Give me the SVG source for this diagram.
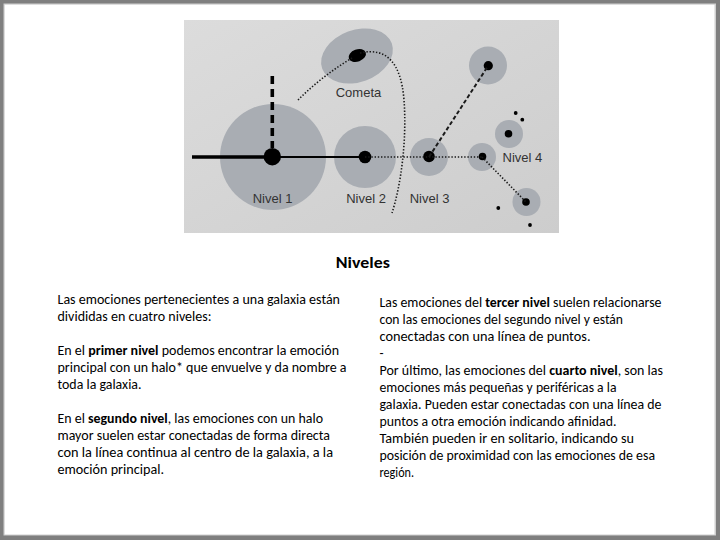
<svg xmlns="http://www.w3.org/2000/svg" width="720" height="540" viewBox="0 0 720 540">
<defs>
<linearGradient id="bg" x1="0" y1="0" x2="1" y2="1">
<stop offset="0" stop-color="#dcdcdc"/>
<stop offset="1" stop-color="#cdcdcd"/>
</linearGradient>
</defs>
<style>
.halo{fill:#a9adb3}
.nuc{fill:#000}
.lbl{font-family:"Liberation Sans",Arial,sans-serif;font-size:13px;fill:#333}
.body{font-family:Carlito,Calibri,Lato,sans-serif;font-size:13.3px;fill:#000}
.b{font-weight:bold}
.dot{fill:none;stroke:#1a1a1a;stroke-width:1.6;stroke-dasharray:1.4 1.8}
</style>
<rect x="0" y="0" width="720" height="540" fill="#7f7f7f"/>
<rect x="3.5" y="3.5" width="712.5" height="532" fill="#cfcfcf"/>
<rect x="4.7" y="4.7" width="709.8" height="529.8" fill="#ffffff"/>
<g id="figure">
<rect x="184" y="20" width="375" height="213" fill="url(#bg)"/>
<g id="nivel1">
<circle cx="273" cy="157" r="53" class="halo"/>
<circle cx="272.3" cy="156.7" r="8.7" class="nuc"/>
<text x="272.5" y="203" text-anchor="middle" class="lbl">Nivel 1</text>
</g>
<g id="nivel2">
<circle cx="365" cy="157" r="31" class="halo"/>
<circle cx="365" cy="157" r="6.3" class="nuc"/>
<text x="366" y="203" text-anchor="middle" class="lbl">Nivel 2</text>
</g>
<g id="cometa">
<ellipse cx="357" cy="56" rx="37" ry="26" transform="rotate(-20 357 56)" class="halo"/>
<ellipse cx="357.3" cy="55.5" rx="9" ry="6" transform="rotate(-20 357.3 55.5)" class="nuc"/>
<text x="358.5" y="97" text-anchor="middle" class="lbl">Cometa</text>
</g>
<g id="nivel3">
<circle cx="429" cy="157" r="19" class="halo"/>
<circle cx="429" cy="156.5" r="5.8" class="nuc"/>
<text x="429.5" y="203" text-anchor="middle" class="lbl">Nivel 3</text>
</g>
<g id="nivel4">
<circle cx="488" cy="65.5" r="19" class="halo"/>
<circle cx="488.3" cy="65.7" r="4.6" class="nuc"/>
<circle cx="482" cy="157" r="14" class="halo"/>
<circle cx="482.5" cy="156.5" r="3.8" class="nuc"/>
<circle cx="509" cy="134" r="14" class="halo"/>
<circle cx="508.5" cy="133.7" r="3.8" class="nuc"/>
<circle cx="526.5" cy="202" r="14" class="halo"/>
<circle cx="526" cy="202" r="3.8" class="nuc"/>
<circle cx="515.7" cy="113" r="1.9" class="nuc"/>
<circle cx="522.3" cy="119.7" r="1.9" class="nuc"/>
<circle cx="498.3" cy="208" r="1.9" class="nuc"/>
<circle cx="530" cy="225" r="1.9" class="nuc"/>
<text x="502.5" y="162" class="lbl">Nivel 4</text>
</g>
<g id="connectors">
<line x1="192" y1="157" x2="268" y2="157" stroke="#000" stroke-width="3.4"/>
<line x1="272" y1="157" x2="365" y2="157" stroke="#000" stroke-width="2"/>
<line x1="272.3" y1="76" x2="272.3" y2="148" stroke="#000" stroke-width="3.6" stroke-dasharray="8 5"/>
<line x1="365" y1="157" x2="482" y2="157" class="dot"/>
<line x1="429" y1="157" x2="488" y2="66" stroke="#1a1a1a" stroke-width="2" stroke-dasharray="4 2.4"/>
<line x1="482" y1="157" x2="526" y2="202" class="dot"/>
<path d="M298,100 Q322,76 352,58" class="dot"/>
<path d="M360,53 C386,47 401,62 404,100 C407,140 401,185 392,213" class="dot"/>
</g>
</g>
<g id="title">
<text x="362.8" y="267.5" text-anchor="middle" font-family="Carlito,Calibri,Lato,sans-serif" font-size="16" font-weight="bold" fill="#000" textLength="54" lengthAdjust="spacingAndGlyphs">Niveles</text>
</g>
<g id="left-text" class="body">
<text x="57.5" y="304" textLength="282.5" lengthAdjust="spacingAndGlyphs">Las emociones pertenecientes a una galaxia están</text>
<text x="57.5" y="321" textLength="154" lengthAdjust="spacingAndGlyphs">divididas en cuatro niveles:</text>
<text x="57.5" y="355" textLength="281.5" lengthAdjust="spacingAndGlyphs">En el <tspan class="b">primer nivel</tspan> podemos encontrar la emoción</text>
<text x="57.5" y="372" textLength="289" lengthAdjust="spacingAndGlyphs">principal con un halo* que envuelve y da nombre a</text>
<text x="57.5" y="389" textLength="84" lengthAdjust="spacingAndGlyphs">toda la galaxia.</text>
<text x="57.5" y="423" textLength="265.5" lengthAdjust="spacingAndGlyphs">En el <tspan class="b">segundo nivel</tspan>, las emociones con un halo</text>
<text x="57.5" y="440" textLength="272.5" lengthAdjust="spacingAndGlyphs">mayor suelen estar conectadas de forma directa</text>
<text x="57.5" y="457" textLength="275.5" lengthAdjust="spacingAndGlyphs">con la línea continua al centro de la galaxia, a la</text>
<text x="57.5" y="474" textLength="106.5" lengthAdjust="spacingAndGlyphs">emoción principal.</text>
</g>
<g id="right-text" class="body">
<text x="379.5" y="307" textLength="282" lengthAdjust="spacingAndGlyphs">Las emociones del <tspan class="b">tercer nivel</tspan> suelen relacionarse</text>
<text x="379.5" y="324" textLength="243.5" lengthAdjust="spacingAndGlyphs">con las emociones del segundo nivel y están</text>
<text x="379.5" y="341" textLength="211" lengthAdjust="spacingAndGlyphs">conectadas con una línea de puntos.</text>
<text x="379.5" y="358">-</text>
<text x="379.5" y="375" textLength="283.5" lengthAdjust="spacingAndGlyphs">Por último, las emociones del <tspan class="b">cuarto nivel</tspan>, son las</text>
<text x="379.5" y="392" textLength="237" lengthAdjust="spacingAndGlyphs">emociones más pequeñas y periféricas a la</text>
<text x="379.5" y="409" textLength="282" lengthAdjust="spacingAndGlyphs">galaxia. Pueden estar conectadas con una línea de</text>
<text x="379.5" y="426" textLength="237" lengthAdjust="spacingAndGlyphs">puntos a otra emoción indicando afinidad.</text>
<text x="379.5" y="443" textLength="254.5" lengthAdjust="spacingAndGlyphs">También pueden ir en solitario, indicando su</text>
<text x="379.5" y="460" textLength="275.5" lengthAdjust="spacingAndGlyphs">posición de proximidad con las emociones de esa</text>
<text x="379.5" y="477" textLength="34.5" lengthAdjust="spacingAndGlyphs">región.</text>
</g>
</svg>
